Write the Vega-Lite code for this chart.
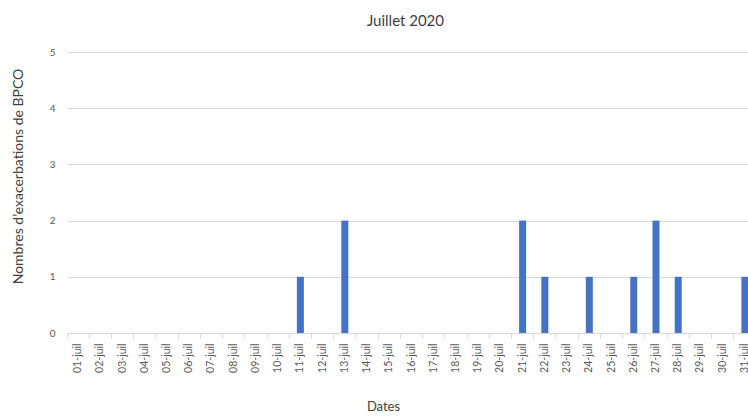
{
  "$schema": "https://vega.github.io/schema/vega-lite/v6.json",
  "autosize": {"type": "none"},
  "padding": {"left": 67, "top": 52, "right": 0, "bottom": 83},
  "width": 689,
  "height": 281,
  "title": {"text": "Juillet 2020", "fontSize": 15, "font": "Lato", "fontWeight": "normal", "color": "#404040", "anchor": "middle", "frame": "group", "dx": -6, "offset": 18},
  "config": {"view": {"stroke": null}, "font": "Lato"},
  "data": {"values": [
    {"date": "01-juil", "n": 0}, {"date": "02-juil", "n": 0}, {"date": "03-juil", "n": 0},
    {"date": "04-juil", "n": 0}, {"date": "05-juil", "n": 0}, {"date": "06-juil", "n": 0},
    {"date": "07-juil", "n": 0}, {"date": "08-juil", "n": 0}, {"date": "09-juil", "n": 0},
    {"date": "10-juil", "n": 0}, {"date": "11-juil", "n": 1}, {"date": "12-juil", "n": 0},
    {"date": "13-juil", "n": 2}, {"date": "14-juil", "n": 0}, {"date": "15-juil", "n": 0},
    {"date": "16-juil", "n": 0}, {"date": "17-juil", "n": 0}, {"date": "18-juil", "n": 0},
    {"date": "19-juil", "n": 0}, {"date": "20-juil", "n": 0}, {"date": "21-juil", "n": 2},
    {"date": "22-juil", "n": 1}, {"date": "23-juil", "n": 0}, {"date": "24-juil", "n": 1},
    {"date": "25-juil", "n": 0}, {"date": "26-juil", "n": 1}, {"date": "27-juil", "n": 2},
    {"date": "28-juil", "n": 1}, {"date": "29-juil", "n": 0}, {"date": "30-juil", "n": 0},
    {"date": "31-juil", "n": 1}
  ]},
  "mark": {"type": "bar", "color": "#4472C4", "size": 7},
  "encoding": {
    "x": {
      "field": "date", "type": "ordinal", "sort": null,
      "scale": {"paddingInner": 0, "paddingOuter": 0},
      "axis": {
        "title": "Dates", "titleFontSize": 13, "titleFontWeight": "normal", "titleColor": "#404040",
        "titleX": 316, "titleY": 73, "titleBaseline": "middle",
        "labelAngle": -90, "labelFontSize": 10.5, "labelColor": "#595959", "labelPadding": 5,
        "domainColor": "#d9d9d9", "domainWidth": 1,
        "ticks": true, "tickColor": "#d9d9d9", "tickSize": 5, "bandPosition": 0,
        "grid": false
      }
    },
    "y": {
      "field": "n", "type": "quantitative",
      "scale": {"domain": [0, 5]},
      "axis": {
        "title": "Nombres d’exacerbations de BPCO", "titleFontSize": 14, "titleFontWeight": "normal", "titleColor": "#404040",
        "titleX": -49, "titleY": 124, "titleAngle": -90, "titleBaseline": "middle",
        "values": [0, 1, 2, 3, 4, 5], "format": "d",
        "labelFontSize": 10, "labelColor": "#595959", "labelPadding": 12,
        "domain": false, "ticks": false,
        "grid": true, "gridColor": "#d9d9d9", "gridWidth": 1
      }
    }
  }
}
